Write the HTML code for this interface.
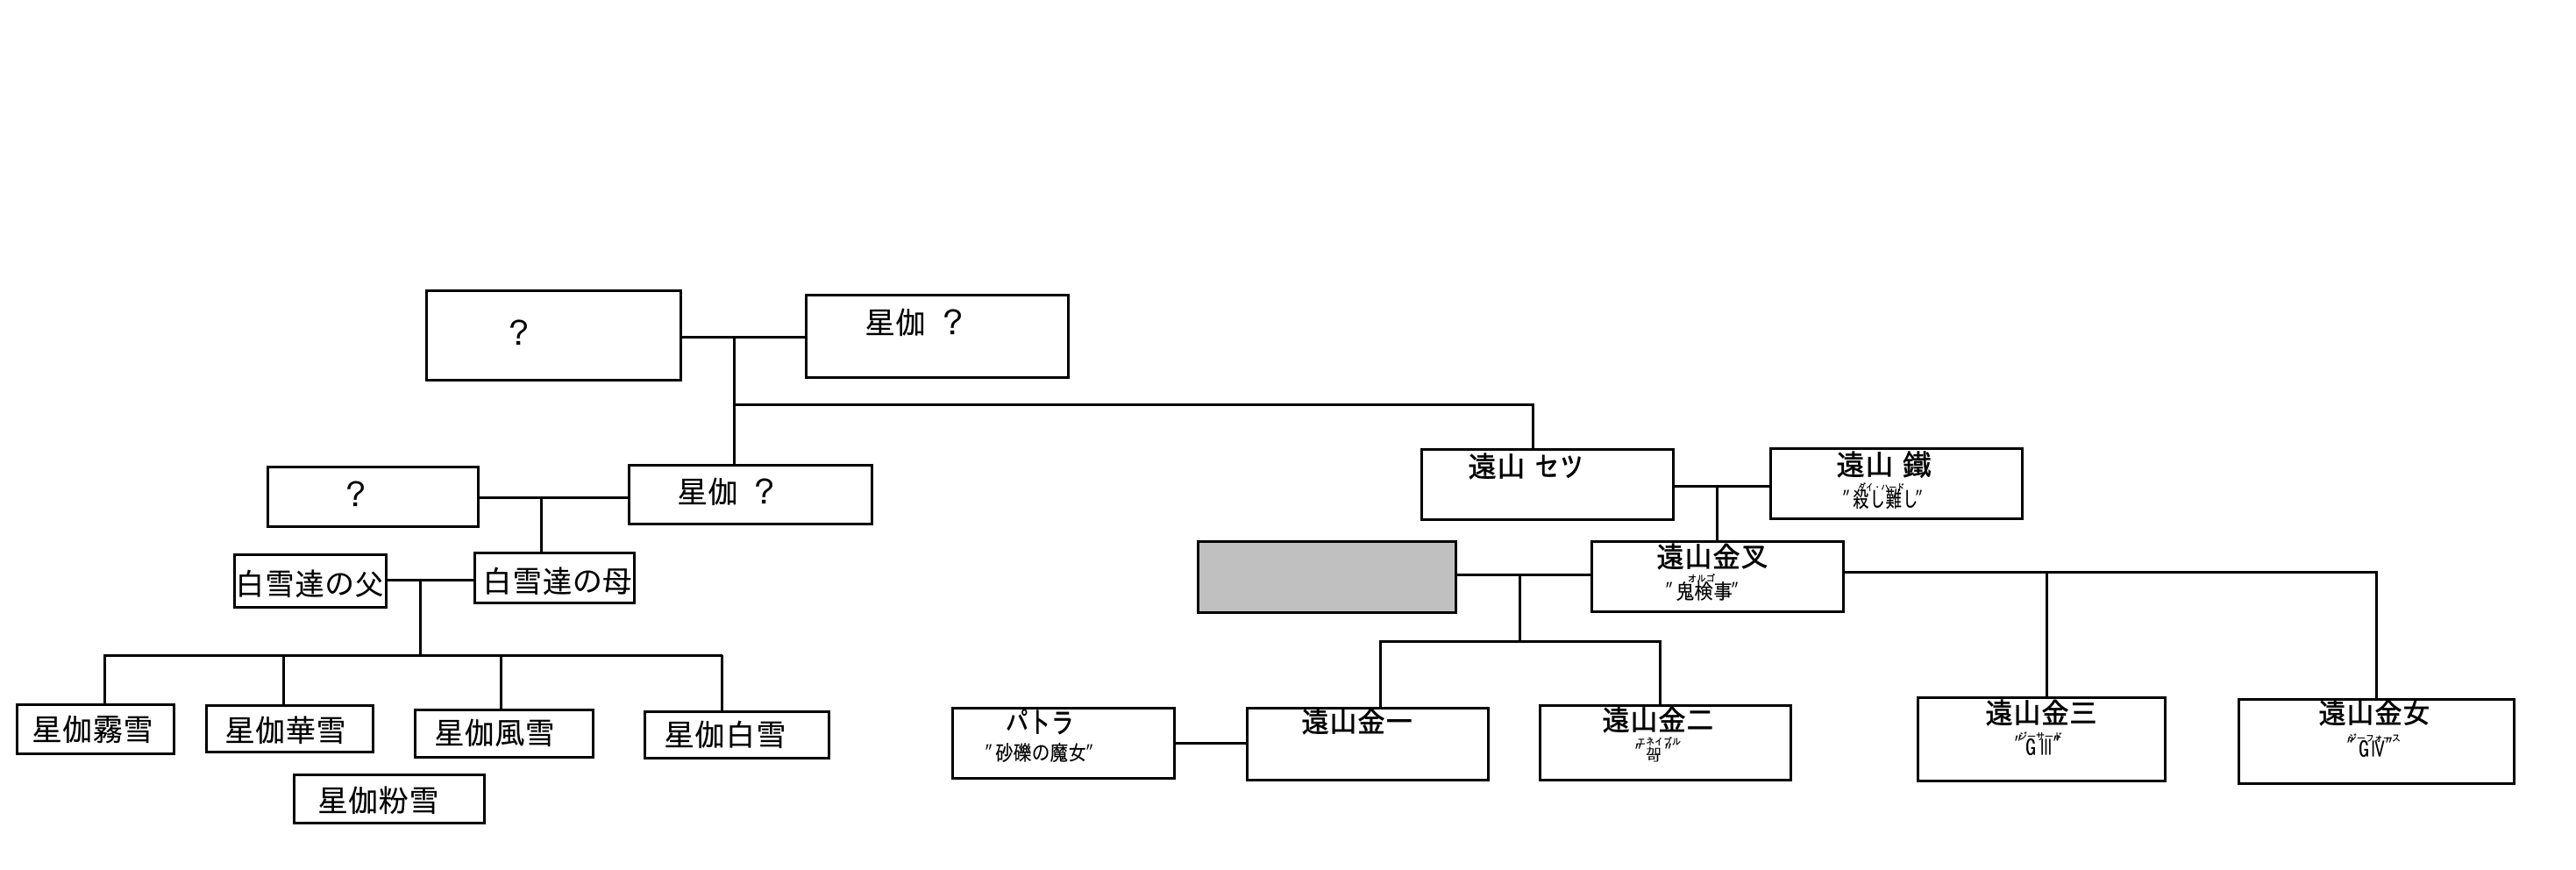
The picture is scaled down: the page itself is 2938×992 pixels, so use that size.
<!DOCTYPE html>
<html lang="ja"><head><meta charset="utf-8"><title>家系図</title>
<style>
html,body{margin:0;padding:0;background:#fff;width:2938px;height:992px;overflow:hidden}
svg{display:block}
text{font-family:"IPAGothic","Noto Sans CJK JP",sans-serif;fill:#000;dominant-baseline:central}
.n{font-size:35px;stroke:#000;stroke-width:.2px}
.b{font-size:33px;stroke:#000;stroke-width:.7px}
.s{font-size:21px;stroke:#000;stroke-width:.2px}
.r{font-size:11px;stroke:#000;stroke-width:.3px}
.q{font-size:22px;stroke:#000;stroke-width:.2px}
rect.x{fill:#fff;stroke:#000;stroke-width:3}
</style></head><body>
<svg xmlns="http://www.w3.org/2000/svg" width="2938" height="992" viewBox="0 0 2938 992" shape-rendering="crispEdges">
<rect width="2938" height="992" fill="#fff"/>
<g stroke="#000" fill="none" stroke-width="3">
<path d="M777 384.5H919M546 567.5H717M441 661.5H541M118 747.5H824M1661 655.5H1815M1909 554.5H2019M2103 652.5H2712M1573 731.5H1895M1340 847.5H1422M836 461.5H1750"/>
<path d="M837.5 384V530M617.5 567V630M479.5 661V747M119.5 747V803M323.5 747V804M571.5 747V809M823.5 747V811M1748.5 460V512M1958.5 554V617M1733.5 655V731M1574.5 731V807M1893.5 731V804M2334.5 652V795M2710.5 652V797"/>
</g>
<rect class="x" x="486.5" y="331.5" width="290" height="102"/>
<rect class="x" x="919.5" y="336.5" width="299" height="94"/>
<rect class="x" x="305.5" y="532.5" width="240" height="68"/>
<rect class="x" x="717.5" y="530.5" width="277" height="67"/>
<rect class="x" x="267.5" y="632.5" width="173" height="60"/>
<rect class="x" x="541.5" y="630.5" width="182" height="57"/>
<rect class="x" x="19.5" y="803.5" width="179" height="56"/>
<rect class="x" x="235.5" y="804.5" width="190" height="53"/>
<rect class="x" x="473.5" y="809.5" width="203" height="54"/>
<rect class="x" x="735.5" y="811.5" width="210" height="53"/>
<rect class="x" x="335.5" y="883.5" width="217" height="55"/>
<rect class="x" x="1621.5" y="512.5" width="287" height="80"/>
<rect class="x" x="2019.5" y="511.5" width="287" height="80"/>
<rect x="1366.5" y="617.5" width="294" height="81" fill="#c0c0c0" stroke="#000" stroke-width="3"/>
<rect class="x" x="1815.5" y="617.5" width="287" height="80"/>
<rect class="x" x="1086.5" y="807.5" width="253" height="80"/>
<rect class="x" x="1422.5" y="807.5" width="275" height="82"/>
<rect class="x" x="1756.5" y="804.5" width="286" height="85"/>
<rect class="x" x="2187.5" y="795.5" width="282" height="95"/>
<rect class="x" x="2553.5" y="797.5" width="314" height="96"/>

<g shape-rendering="auto">
<text class="n" x="574" y="380">？</text>
<text class="n" x="986" y="368" textLength="70" lengthAdjust="spacingAndGlyphs">星伽</text><text class="n" x="1069" y="368">？</text>
<text class="n" x="388" y="564">？</text>
<text class="n" x="772" y="561" textLength="70" lengthAdjust="spacingAndGlyphs">星伽</text><text class="n" x="854" y="561">？</text>
<text class="n" x="268" y="666" textLength="170" lengthAdjust="spacingAndGlyphs">白雪達の父</text>
<text class="n" x="550" y="663" textLength="171" lengthAdjust="spacingAndGlyphs">白雪達の母</text>
<text class="n" x="36" y="832" textLength="139" lengthAdjust="spacingAndGlyphs">星伽霧雪</text>
<text class="n" x="256" y="833" textLength="139" lengthAdjust="spacingAndGlyphs">星伽華雪</text>
<text class="n" x="495" y="836" textLength="138" lengthAdjust="spacingAndGlyphs">星伽風雪</text>
<text class="n" x="757" y="838" textLength="140" lengthAdjust="spacingAndGlyphs">星伽白雪</text>
<text class="n" x="362" y="913" textLength="139" lengthAdjust="spacingAndGlyphs">星伽粉雪</text>

<text class="b" x="1674" y="531.5">遠山</text><text class="b" x="1750" y="531.5" textLength="57" lengthAdjust="spacingAndGlyphs">セツ</text>
<text class="b" x="2094" y="529.5">遠山</text><text class="b" x="2170" y="529.5">鐵</text>
<text class="r" x="2119" y="556" textLength="53" lengthAdjust="spacingAndGlyphs">ダイ・ハード</text>
<text class="s" transform="translate(2113,569) scale(1,1.2)" textLength="75" lengthAdjust="spacingAndGlyphs">殺し難し</text>
<text class="q" x="2101" y="569">″</text><text class="q" x="2184" y="569">″</text>

<text class="b" x="1889" y="634.5" textLength="128" lengthAdjust="spacingAndGlyphs">遠山金叉</text>
<text class="r" x="1925" y="660" textLength="31" lengthAdjust="spacingAndGlyphs">オルゴ</text>
<text class="s" transform="translate(1911,674) scale(1,1.15)" textLength="65" lengthAdjust="spacingAndGlyphs">鬼検事</text>
<text class="q" x="1899" y="674">″</text><text class="q" x="1974" y="674">″</text>

<text class="b" x="1147" y="823" textLength="78" lengthAdjust="spacingAndGlyphs">パトラ</text>
<text class="s" transform="translate(1135,858) scale(1,1.15)" textLength="104" lengthAdjust="spacingAndGlyphs">砂礫の魔女</text>
<text class="q" x="1123" y="859">″</text><text class="q" x="1238" y="859">″</text>

<text class="b" x="1484" y="822.5" textLength="128" lengthAdjust="spacingAndGlyphs">遠山金一</text>

<text class="b" x="1827" y="820.5" textLength="128" lengthAdjust="spacingAndGlyphs">遠山金二</text>
<text class="r" x="1867" y="846" textLength="50" lengthAdjust="spacingAndGlyphs">エネイブル</text>
<text class="q" x="1864" y="858">″</text><text class="q" x="1898" y="858">″</text>
<text class="s" transform="translate(1877,856) scale(1,.5)" textLength="18" lengthAdjust="spacingAndGlyphs">加</text>
<text class="s" transform="translate(1877,864) scale(1,.5)" textLength="18" lengthAdjust="spacingAndGlyphs">可</text>

<text class="b" x="2264" y="812.5" textLength="128" lengthAdjust="spacingAndGlyphs">遠山金三</text>
<text class="r" x="2302" y="840" textLength="50" lengthAdjust="spacingAndGlyphs">ジーサード</text>
<text class="q" x="2297" y="849">″</text><text class="q" x="2341" y="849">″</text>
<text class="s" transform="translate(2310,853) scale(1,1.2)" textLength="12" lengthAdjust="spacingAndGlyphs">G</text>
<text class="s" transform="translate(2325,853) scale(1,1.2)" textLength="17" lengthAdjust="spacingAndGlyphs">Ⅲ</text>

<text class="b" x="2644" y="812.5" textLength="128" lengthAdjust="spacingAndGlyphs">遠山金女</text>
<text class="r" x="2678" y="842" textLength="60" lengthAdjust="spacingAndGlyphs">ジーフォース</text>
<text class="q" x="2676" y="851">″</text><text class="q" x="2720" y="851">″</text>
<text class="s" transform="translate(2690,855) scale(1,1.2)" textLength="12" lengthAdjust="spacingAndGlyphs">G</text>
<text class="s" transform="translate(2703,855) scale(1,1.2)" textLength="18" lengthAdjust="spacingAndGlyphs">Ⅳ</text>
</g>
</svg>
</body></html>
